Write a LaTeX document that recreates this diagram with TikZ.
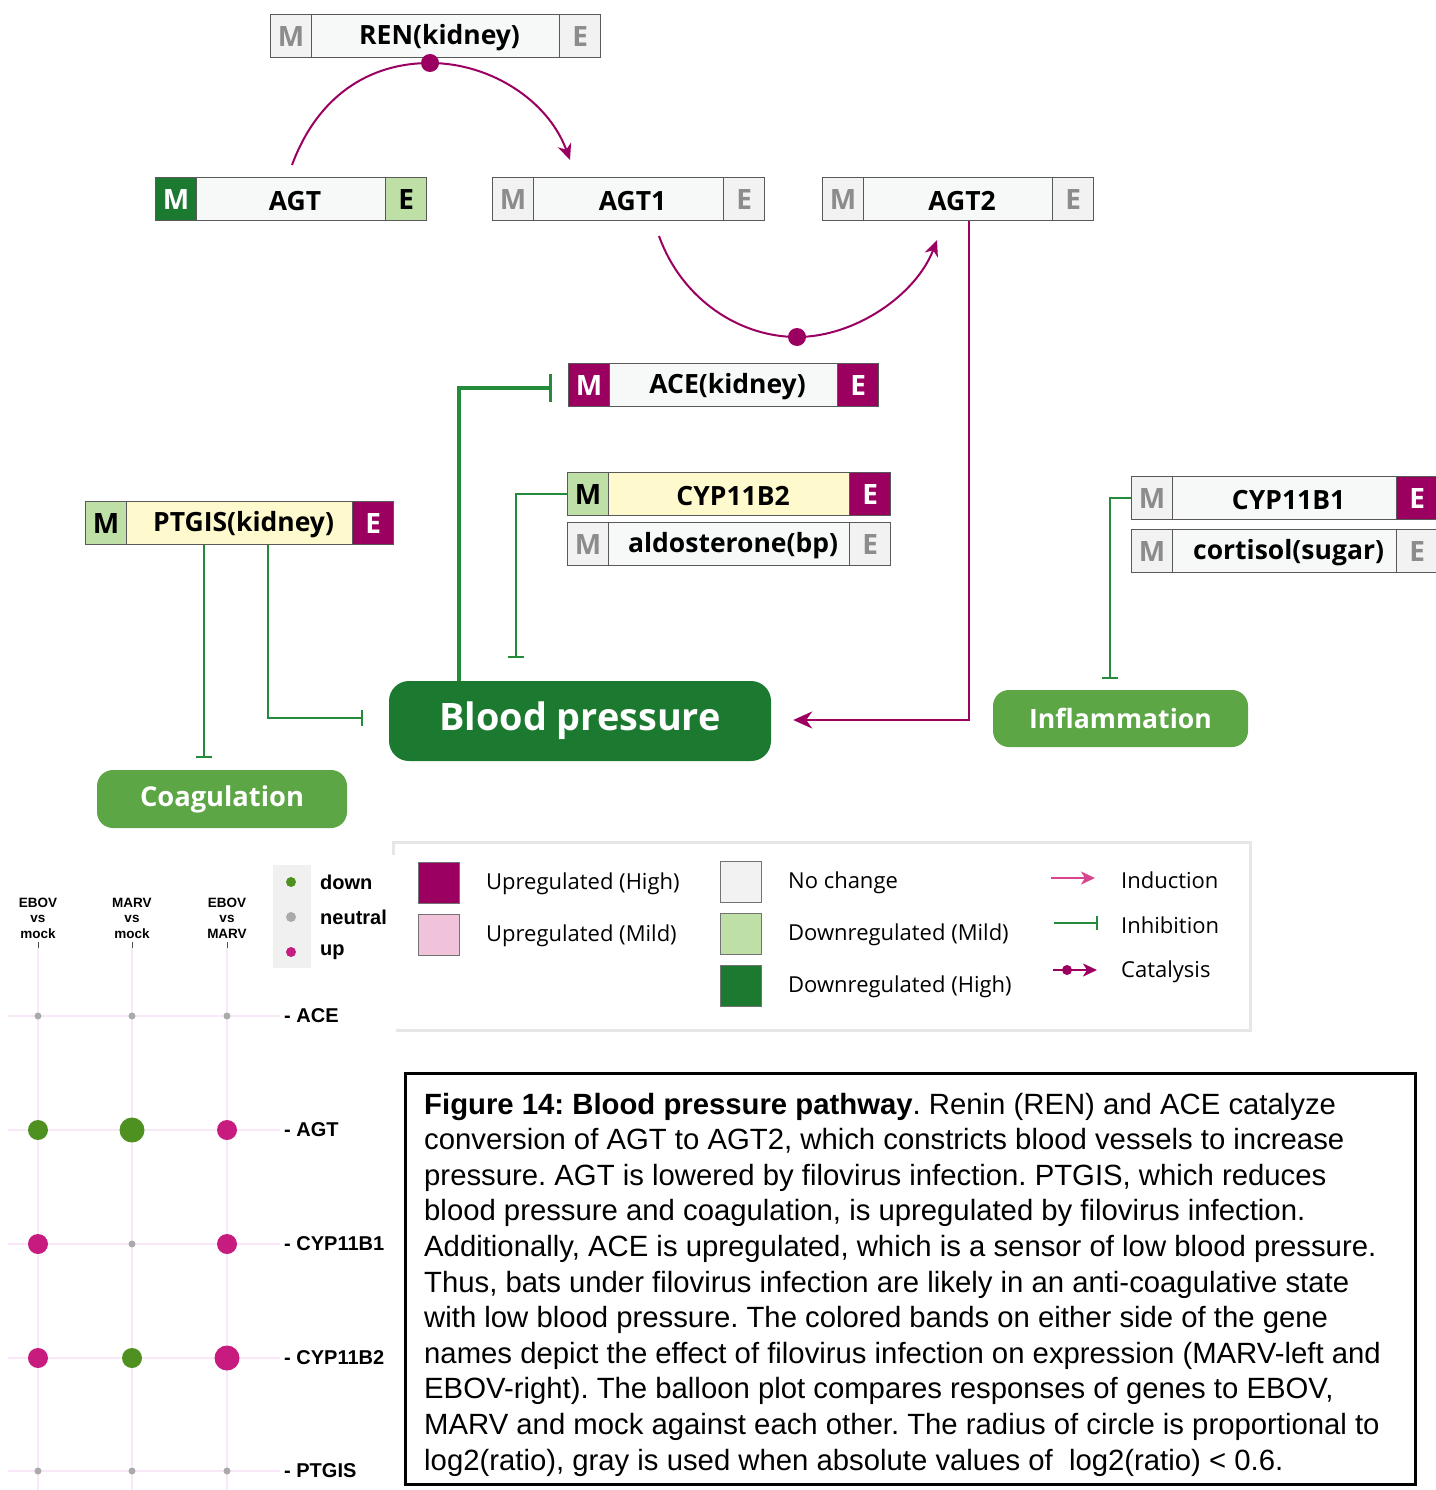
\documentclass[tikz,border=0pt]{standalone}
\usepackage{fontspec}
\setmainfont{Open Sans}
\newfontfamily\capfont{Liberation Sans}
\usetikzlibrary{arrows.meta,calc}
\definecolor{upH}{HTML}{9B0060}
\definecolor{upM}{HTML}{F0C3DB}
\definecolor{nc}{HTML}{F2F2F2}
\definecolor{dnM}{HTML}{BEE0A6}
\definecolor{dnH}{HTML}{1B7A30}
\definecolor{gbodyc}{HTML}{F7F9F9}
\definecolor{yel}{HTML}{FFFACD}
\definecolor{lgreen}{HTML}{5DA646}
\definecolor{inhc}{HTML}{238B3B}
\definecolor{catc}{HTML}{9B0060}
\definecolor{indpink}{HTML}{D8458F}
\definecolor{bgreen}{HTML}{4E9121}
\definecolor{bpink}{HTML}{C71B7F}
\definecolor{bgrey}{HTML}{AAAAAA}
\definecolor{gridc}{HTML}{F8E8F8}
\definecolor{legbord}{HTML}{E6E6E6}
\newcommand{\gbox}[8]{%
  \node[gbody, fill=#6, minimum width=#4pt, anchor=north west] (#1) at (#2,#3) {};
  \node[cell, #5, anchor=north west] (#1M) at (#1.north west) {M};
  \node[cell, #8, anchor=north east] (#1E) at (#1.north east) {E};
  \path (#1M.east) -- node[glabel] (#1L) {#7} (#1E.west);
}
\frenchspacing
\begin{document}
\begin{tikzpicture}[x=1pt,y=-1pt,
  gbody/.style={draw=black!65, line width=1.2pt, minimum height=43pt, inner sep=0pt, rectangle},
  cell/.style={draw=black!65, line width=1.2pt, minimum width=41pt, minimum height=43pt, inner sep=0pt, font=\fontsize{28}{28}\selectfont\bfseries},
  cg/.style={fill=nc, text=black!45},
  cdg/.style={fill=dnH, text=white},
  clg/.style={fill=dnM, text=black},
  cpu/.style={fill=upH, text=white},
  glabel/.style={font=\fontsize{26.5}{26.5}\selectfont\bfseries, inner sep=0pt, yshift=-2pt, xshift=4pt},
  outc/.style={rectangle, text=white, inner sep=0pt},
  catline/.style={draw=catc, line width=2pt, -{Stealth[length=16pt,width=14pt,inset=5pt]}},
  catdot/.style={circle, fill=catc, minimum size=18pt, inner sep=0pt},
  inh/.style={draw=inhc, line width=2pt, -{Bar[width=16pt,line width=2pt]}},
  inhthick/.style={draw=inhc, line width=3.5pt, -{Bar[width=28pt,line width=3.5pt]}},
  legsq/.style={draw=black!55, line width=1pt, minimum width=41pt, minimum height=41pt, inner sep=0pt, anchor=north west},
  legtext/.style={font=\fontsize{22}{22}\selectfont, anchor=west, inner sep=0pt},
  btext/.style={font=\capfont\bfseries\fontsize{20}{20}\selectfont, anchor=west, inner sep=0pt},
  bhead/.style={font=\capfont\bfseries\fontsize{13.5}{15.5}\selectfont, align=center, inner sep=0pt},
  capline/.style={font=\capfont\fontsize{29.3}{29.3}\selectfont, anchor=base west, inner sep=0pt}
]
\useasboundingbox (0,0) rectangle (1435,1490);

% ---------- gene boxes ----------
\gbox{REN}{270}{14}{330}{cg}{gbodyc}{REN(kidney)}{cg}
\gbox{AGT}{155}{177}{271}{cdg}{gbodyc}{AGT}{clg}
\gbox{AGTa}{492}{177}{272}{cg}{gbodyc}{AGT1}{cg}
\gbox{AGTb}{822}{177}{271}{cg}{gbodyc}{AGT2}{cg}
\gbox{ACE}{568}{363}{310}{cpu}{gbodyc}{ACE(kidney)}{cpu}
\gbox{CYPa}{567}{472}{323}{clg}{yel}{CYP11B2}{cpu}
\gbox{ALD}{567}{522}{323}{cg}{gbodyc}{aldosterone(bp)}{cg}
\gbox{PTG}{85}{501}{308}{clg}{yel}{PTGIS(kidney)}{cpu}
\gbox{CYPb}{1131}{476}{306}{cg}{gbodyc}{CYP11B1}{cpu}
\gbox{COR}{1131}{529}{306}{cg}{gbodyc}{cortisol(sugar)}{cg}

% ---------- outcome nodes ----------
\node[outc, fill=dnH, minimum width=382pt, minimum height=80pt, rounded corners=20pt, font=\fontsize{37.8}{37.8}\selectfont\bfseries] (BP) at (580,721) {Blood pressure};
\node[outc, fill=lgreen, minimum width=255pt, minimum height=57pt, rounded corners=16pt, font=\fontsize{26.6}{26.6}\selectfont\bfseries] (INF) at (1120.5,718.5) {Inflammation};
\node[outc, fill=lgreen, minimum width=250pt, minimum height=58pt, rounded corners=16pt, font=\fontsize{27.3}{27.3}\selectfont\bfseries] (COA) at (222,799) {Coagulation};

% ---------- catalysis arcs ----------
\coordinate (c1s) at (292,165);
\coordinate (c1e) at (570,160);
\coordinate (rdotp) at (430,63);
\draw[catline] (c1s) .. controls (318,95) and (370,63) .. (rdotp) .. controls (490,63) and (548,100) .. (c1e);
\node[catdot] (rdot) at (rdotp) {};

\coordinate (c2s) at (659,236);
\coordinate (c2e) at (937,240);
\coordinate (adotp) at (797,337);
\draw[catline] (c2s) .. controls (682,300) and (740,337) .. (adotp) .. controls (855,337) and (916,295) .. (c2e);
\node[catdot] (adot) at (adotp) {};

% AGT2 -> Blood pressure
\coordinate (a2x) at (969,720);
\draw[catline, -{Stealth[length=19pt,width=17pt,inset=6pt]}] (AGTb.south -| a2x) -- (a2x) -- ([xshift=22pt]BP.east |- a2x);

% ---------- inhibitions ----------
\coordinate (bpx) at (459,388);
\draw[inhthick] (bpx |- BP.north) -- (bpx) -- ([xshift=-16pt]ACE.west |- bpx);
\coordinate (cb2) at (516,658);
\draw[inh] (CYPaM.west) -| (cb2);
\coordinate (p1) at (204,758);
\draw[inh] (PTG.south -| p1) -- (p1);
\coordinate (p2) at (268,718);
\draw[inh] (PTG.south -| p2) -- (p2) -- ([xshift=-26pt]BP.west |- p2);
\coordinate (cb1) at (1110,679);
\draw[inh] (CYPbM.west) -| (cb1);

% ---------- legend ----------
\draw[draw=legbord, line width=3pt] (393,855) -- (393,842) -- (1250,842) -- (1250,1030) -- (396,1030);
\node[legsq, fill=upH] (lq1) at (418,862) {};
\node[legsq, fill=upM] (lq2) at (418,914) {};
\node[legsq, fill=nc] (lq3) at (720,861) {};
\node[legsq, fill=dnM] (lq4) at (720,913) {};
\node[legsq, fill=dnH] (lq5) at (720,965) {};
\node[legtext] (lt1) at (486,884) {Upregulated (High)};
\node[legtext] (lt2) at (486,936) {Upregulated (Mild)};
\node[legtext] (lt3) at (788,883) {No change};
\node[legtext] (lt4) at (788,935) {Downregulated (Mild)};
\node[legtext] (lt5) at (788,987) {Downregulated (High)};
\coordinate (li1a) at (1051,878); \coordinate (li1b) at (1095,878);
\draw[draw=indpink, line width=2pt, -{Stealth[length=14pt,width=13pt,inset=4pt]}] (li1a) -- (li1b);
\coordinate (li2a) at (1054,923); \coordinate (li2b) at (1098,923);
\draw[inh, -{Bar[width=14pt,line width=2pt]}] (li2a) -- (li2b);
\coordinate (li3a) at (1053,970); \coordinate (li3b) at (1097,970);
\draw[draw=catc, line width=2pt, -{Stealth[length=14pt,width=13pt,inset=4pt]}] (li3a) -- (li3b);
\node[circle, fill=catc, minimum size=10pt, inner sep=0pt] (li3d) at (1067,970) {};
\node[legtext] (lt6) at (1121,880) {Induction};
\node[legtext] (lt7) at (1121,925) {Inhibition};
\node[legtext] (lt8) at (1121,972) {Catalysis};

% ---------- balloon plot ----------
\foreach \x in {38,132,227} \draw[gridc, line width=1.5pt] (\x,948) -- (\x,1490);
\foreach \y in {1016,1130,1244,1358,1471} \draw[gridc, line width=1.5pt] (8,\y) -- (280,\y);
\foreach \x in {38,132,227} \draw[black!70, line width=1pt] (\x,942) -- (\x,948);
\node[bhead] (h1) at (38,918) {EBOV\\vs\\mock};
\node[bhead] (h2) at (132,918) {MARV\\vs\\mock};
\node[bhead] (h3) at (227,918) {EBOV\\vs\\MARV};
\node[btext] (r1) at (284,1016) {- ACE};
\node[btext] (r2) at (284,1130) {- AGT};
\node[btext] (r3) at (284,1244) {- CYP11B1};
\node[btext] (r4) at (284,1358) {- CYP11B2};
\node[btext] (r5) at (284,1471) {- PTGIS};
% ACE
\fill[bgrey] (38,1016) circle (3.5) (132,1016) circle (3.5) (227,1016) circle (3.5);
% AGT
\fill[bgreen] (38,1130) circle (10) (132,1130) circle (12.5);
\fill[bpink] (227,1130) circle (10);
% CYP11B1
\fill[bpink] (38,1244) circle (10) (227,1244) circle (10);
\fill[bgrey] (132,1244) circle (3.5);
% CYP11B2
\fill[bpink] (38,1358) circle (10) (227,1358) circle (12.5);
\fill[bgreen] (132,1358) circle (10);
% PTGIS
\fill[bgrey] (38,1471) circle (3.5) (132,1471) circle (3.5) (227,1471) circle (3.5);
% balloon legend
\fill[black!6] (273,865) rectangle (311,968);
\fill[bgreen] (291,882) circle (5);
\fill[bgrey] (291,917) circle (5);
\fill[bpink] (291,952) circle (5);
\node[btext] (bl1) at (320,882) {down};
\node[btext] (bl2) at (320,917) {neutral};
\node[btext] (bl3) at (320,952) {up};

% ---------- caption ----------
\node[draw=black, line width=2.5pt, minimum width=1010pt, minimum height=411pt, anchor=north west, inner sep=0pt] (capbox) at (404,1072) {};
\node[capline] (cl1) at (424,1114) {\textbf{Figure 14: Blood pressure pathway}. Renin (REN) and ACE catalyze};
\node[capline] (cl2) at (424,1149.6) {conversion of AGT to AGT2, which constricts blood vessels to increase};
\node[capline] (cl3) at (424,1185.2) {pressure. AGT is lowered by filovirus infection. PTGIS, which reduces};
\node[capline] (cl4) at (424,1220.8) {blood pressure and coagulation, is upregulated by filovirus infection.};
\node[capline] (cl5) at (424,1256.4) {Additionally, ACE is upregulated, which is a sensor of low blood pressure.};
\node[capline] (cl6) at (424,1292) {Thus, bats under filovirus infection are likely in an anti-coagulative state};
\node[capline] (cl7) at (424,1327.6) {with low blood pressure. The colored bands on either side of the gene};
\node[capline] (cl8) at (424,1363.2) {names depict the effect of filovirus infection on expression (MARV-left and};
\node[capline] (cl9) at (424,1398.8) {EBOV-right). The balloon plot compares responses of genes to EBOV,};
\node[capline] (cl10) at (424,1434.4) {MARV and mock against each other. The radius of circle is proportional to};
\node[capline] (cl11) at (424,1470) {log2(ratio), gray is used when absolute values of\ \ log2(ratio) < 0.6.};
\end{tikzpicture}
\end{document}
